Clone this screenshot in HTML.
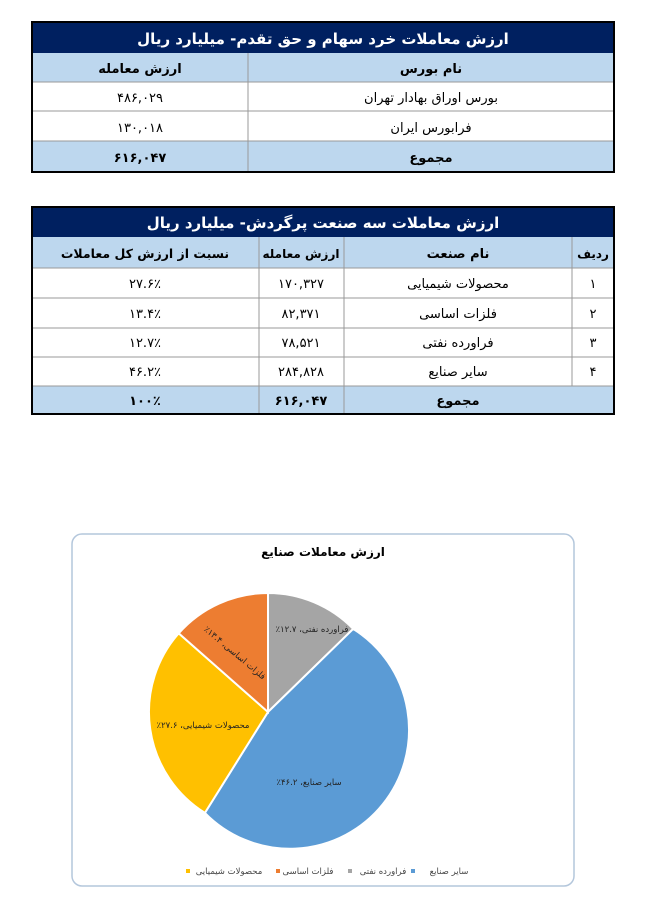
<!DOCTYPE html>
<html><head><meta charset="utf-8"><style>
html,body{margin:0;padding:0;background:#fff;width:669px;height:900px;overflow:hidden}
text{font-family:"DejaVu Sans",sans-serif;}
</style></head><body>
<svg width="669" height="900" viewBox="0 0 669 900" xmlns="http://www.w3.org/2000/svg">
<g direction="rtl" text-anchor="middle">
<!-- Table 1 -->
<rect x="32" y="22" width="582" height="31" fill="#002060"/>
<rect x="32" y="53" width="582" height="29" fill="#bdd7ee"/>
<rect x="32" y="141" width="582" height="31" fill="#bdd7ee"/>
<g stroke="#999" stroke-width="1">
<line x1="32" y1="82" x2="614" y2="82"/><line x1="32" y1="111" x2="614" y2="111"/><line x1="32" y1="141" x2="614" y2="141"/>
<line x1="248" y1="53" x2="248" y2="172"/>
</g>
<rect x="32" y="22" width="582" height="150" fill="none" stroke="#000" stroke-width="2"/>
<text x="323" y="44" fill="#fff" font-size="15" font-weight="bold">ارزش معاملات خرد سهام و حق تقدم- میلیارد ریال</text>
<text x="431" y="73" font-size="13" font-weight="bold">نام بورس</text>
<text x="140" y="73" font-size="13" font-weight="bold">ارزش معامله</text>
<text x="431" y="102" font-size="13">بورس اوراق بهادار تهران</text>
<text x="140" y="102" font-size="13">۴۸۶,۰۲۹</text>
<text x="431" y="132" font-size="13">فرابورس ایران</text>
<text x="140" y="132" font-size="13">۱۳۰,۰۱۸</text>
<text x="431" y="162" font-size="13" font-weight="bold">مجموع</text>
<text x="140" y="162" font-size="13" font-weight="bold">۶۱۶,۰۴۷</text>

<!-- Table 2 -->
<rect x="32" y="207" width="582" height="30" fill="#002060"/>
<rect x="32" y="237" width="582" height="31" fill="#bdd7ee"/>
<rect x="32" y="386" width="582" height="28" fill="#bdd7ee"/>
<g stroke="#999" stroke-width="1">
<line x1="32" y1="268" x2="614" y2="268"/><line x1="32" y1="298" x2="614" y2="298"/><line x1="32" y1="328" x2="614" y2="328"/><line x1="32" y1="357" x2="614" y2="357"/><line x1="32" y1="386" x2="614" y2="386"/>
<line x1="572" y1="237" x2="572" y2="386"/>
<line x1="344" y1="237" x2="344" y2="414"/>
<line x1="259" y1="237" x2="259" y2="414"/>
</g>
<rect x="32" y="207" width="582" height="207" fill="none" stroke="#000" stroke-width="2"/>
<text x="323" y="228" fill="#fff" font-size="15" font-weight="bold">ارزش معاملات سه صنعت پرگردش- میلیارد ریال</text>
<text x="593" y="258" font-size="12" font-weight="bold">ردیف</text>
<text x="458" y="258" font-size="13" font-weight="bold">نام صنعت</text>
<text x="301" y="258" font-size="12" font-weight="bold">ارزش معامله</text>
<text x="145" y="258" font-size="12.5" font-weight="bold">نسبت از ارزش کل معاملات</text>
<g font-size="13">
<text x="593" y="288">۱</text><text x="458" y="288">محصولات شیمیایی</text><text x="301" y="288">۱۷۰,۳۲۷</text><text x="145" y="288">۲۷.۶٪</text>
<text x="593" y="318">۲</text><text x="458" y="318">فلزات اساسی</text><text x="301" y="318">۸۲,۳۷۱</text><text x="145" y="318">۱۳.۴٪</text>
<text x="593" y="347">۳</text><text x="458" y="347">فراورده نفتی</text><text x="301" y="347">۷۸,۵۲۱</text><text x="145" y="347">۱۲.۷٪</text>
<text x="593" y="376">۴</text><text x="458" y="376">سایر صنایع</text><text x="301" y="376">۲۸۴,۸۲۸</text><text x="145" y="376">۴۶.۲٪</text>
</g>
<text x="458" y="405" font-size="13" font-weight="bold">مجموع</text>
<text x="301" y="405" font-size="13" font-weight="bold">۶۱۶,۰۴۷</text>
<text x="145" y="405" font-size="13" font-weight="bold">۱۰۰٪</text>

<!-- Chart -->
<rect x="72" y="534" width="502" height="352" rx="10" fill="#fff" stroke="#b4c7dc" stroke-width="1.5"/>
<text x="323" y="556" font-size="12" font-weight="bold">ارزش معاملات صنایع</text>
<g stroke="#fff" stroke-width="2">
<path d="M268,712 L268,593 A119,119 0 0 1 353.2,628.9 Z" fill="#a5a5a5"/>
<path d="M268,712 L353.2,628.9 A119,119 0 1 1 204.9,812.9 Z" fill="#5b9bd5"/>
<path d="M268,712 L204.9,812.9 A119,119 0 0 1 178.7,633.3 Z" fill="#ffc000"/>
<path d="M268,712 L178.7,633.3 A119,119 0 0 1 268,593 Z" fill="#ed7d31"/>
</g>
<g font-size="8.5" fill="#222">
<text x="312" y="632">فراورده نفتی، ۱۲.۷٪</text>
<text x="233" y="655" transform="rotate(40 233 655)">فلزات اساسی، ۱۳.۴٪</text>
<text x="203" y="728">محصولات شیمیایی، ۲۷.۶٪</text>
<text x="309" y="785">سایر صنایع، ۴۶.۲٪</text>
</g>
<g font-size="8.5" fill="#444">
<rect x="411" y="869" width="4" height="4" fill="#5b9bd5"/><text x="449" y="874">سایر صنایع</text>
<rect x="348" y="869" width="4" height="4" fill="#a5a5a5"/><text x="383" y="874">فراورده نفتی</text>
<rect x="276" y="869" width="4" height="4" fill="#ed7d31"/><text x="308" y="874">فلزات اساسی</text>
<rect x="186" y="869" width="4" height="4" fill="#ffc000"/><text x="229" y="874">محصولات شیمیایی</text>
</g>
</g>
</svg>
</body></html>
